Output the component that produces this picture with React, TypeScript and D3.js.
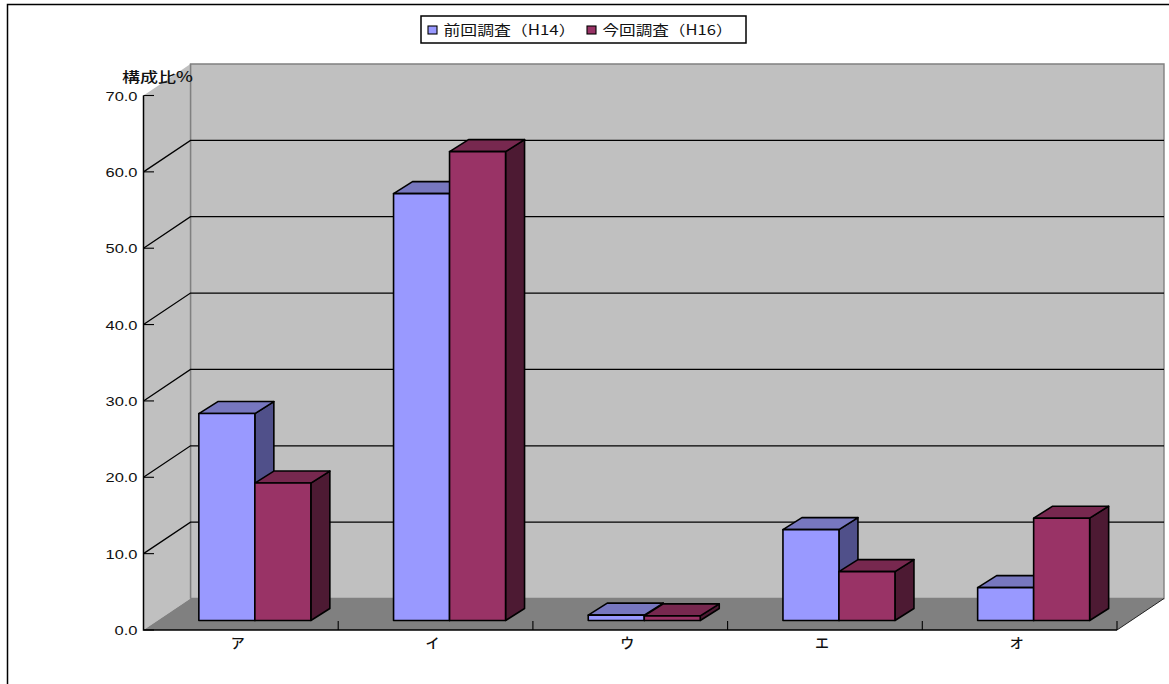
import React from "react";
import * as d3 from "d3";

const categories = ["ア", "イ", "ウ", "エ", "オ"];
const seriesNames = ["前回調査(H14)", "今回調査(H16)"];
const legendLabels = ["前回調査（H14）", "今回調査（H16）"];
const previous = [27.1, 55.9, 0.7, 11.9, 4.3];
const current = [18.0, 61.4, 0.6, 6.4, 13.4];
const yTicks = [0, 10, 20, 30, 40, 50, 60, 70];
const gridTicks = [10, 20, 30, 40, 50, 60];

const frontFill = ["#9999ff", "#993366"];
const topFill = ["#7777bf", "#77284f"];
const sideFill = ["#50508a", "#4d1a33"];

const W = 1169, H = 684;
const left = 143.5, right = 1117, base = 630, top70 = 95.5;
const wallDx = 47, wallDy = -31.5;
const planeDx = 14, planeDy = -9.5;
const barDx = 19, barDy = -12;

const x = d3.scaleBand<string>().domain(categories).range([left, right]);
const y = d3.scaleLinear().domain([0, 70]).range([base, top70]);
const inner = d3.scaleBand<string>().domain(seriesNames).range([-56, 56]);
const numFont = "'Liberation Sans', Arial, sans-serif";
const cjkFont = "'Noto Sans CJK JP', sans-serif";
const pts = (p: number[][]) => p.map((a) => a.join(",")).join(" ");

export default function App() {
  const values = [previous, current];
  const boundaries = [...categories.map((c) => x(c)! + x.bandwidth())];
  return (
    <svg width={W} height={H} style={{ position: "absolute", left: 0, top: 0, background: "#fff" }}>
      <path d={`M7.5 ${H}V4.5H${W}`} fill="none" stroke="#000" strokeWidth={1.5} />
      {/* walls */}
      <polygon points={pts([[left + wallDx, y(70) + wallDy], [right + wallDx, y(70) + wallDy], [right + wallDx, base + wallDy], [left + wallDx, base + wallDy]])} fill="#c0c0c0" stroke="#808080" strokeWidth={1.4} />
      <polygon points={pts([[left, y(70)], [left + wallDx, y(70) + wallDy], [left + wallDx, base + wallDy], [left, base]])} fill="#c0c0c0" />
      <line x1={left + wallDx} x2={left + wallDx} y1={y(70) + wallDy} y2={base + wallDy} stroke="#808080" strokeWidth={1.4} />
      <polygon points={pts([[left, base], [left + wallDx, base + wallDy], [right + wallDx, base + wallDy], [right, base]])} fill="#808080" />
      <line x1={right} y1={base} x2={right + wallDx} y2={base + wallDy} stroke="#222" strokeWidth={1} />
      {gridTicks.map((t) => (
        <g key={t}>
          <path d={`M${left} ${y(t)}L${left + wallDx} ${y(t) + wallDy}H${right + wallDx}`} fill="none" stroke="#000" strokeWidth={1.3} />
        </g>
      ))}
      {/* axes */}
      <path d={`M${left} ${y(70)}V${base}H${right}`} fill="none" stroke="#000" strokeWidth={1.5} />
      {yTicks.map((t) => {
        const label = t.toFixed(1);
        const w = label.length === 4 ? 32 : 23;
        return (
          <g key={t}>
            <line x1={left} x2={154} y1={y(t)} y2={y(t)} stroke="#000" strokeWidth={1.1} />
            <text x={137.5 - w} y={y(t) + 5} fontFamily={numFont} fontSize={13.5} textLength={w} lengthAdjust="spacingAndGlyphs" fill="#111">{label}</text>
          </g>
        );
      })}
      {boundaries.map((b) => (
        <line key={b} x1={b} x2={b} y1={base} y2={621} stroke="#000" strokeWidth={1.1} />
      ))}
      {categories.map((c) => (
        <text key={c} x={x(c)! + x.bandwidth() / 2 - 3} y={648} textAnchor="middle" fontFamily={cjkFont} fontSize={14} fontWeight={500} fill="#111">{c}</text>
      ))}
      <text x={122} y={81.5} fontFamily={cjkFont} fontSize={14} fontWeight={500} textLength={71} lengthAdjust="spacingAndGlyphs" fill="#111">構成比%</text>
      {/* bars */}
      {seriesNames.map((s, si) =>
        categories.map((c, ci) => {
          const v = values[si][ci];
          const x0 = x(c)! + x.bandwidth() / 2 + inner(s)! + planeDx;
          const x1 = x0 + inner.bandwidth();
          const b = y(0) + planeDy;
          const t = y(v) + planeDy;
          return (
            <g key={s + c} stroke="#000" strokeWidth={1.6} strokeLinejoin="round">
              <polygon points={pts([[x1, b], [x1 + barDx, b + barDy], [x1 + barDx, t + barDy], [x1, t]])} fill={sideFill[si]} />
              <polygon points={pts([[x0, t], [x0 + barDx, t + barDy], [x1 + barDx, t + barDy], [x1, t]])} fill={topFill[si]} />
              <rect x={x0} y={t} width={x1 - x0} height={b - t} fill={frontFill[si]} />
            </g>
          );
        })
      )}
      {/* legend */}
      <rect x={421} y={16} width={325} height={27} fill="#fff" stroke="#000" strokeWidth={1.5} />
      {legendLabels.map((l, i) => {
        const lx = [428, 587][i];
        return (
          <g key={l}>
            <rect x={lx} y={26} width={9} height={8} fill={frontFill[i]} stroke="#000" strokeWidth={1.1} />
            <text x={lx + 15.5} y={34.5} fontFamily={cjkFont} fontSize={14} textLength={[132, 130][i]} lengthAdjust="spacingAndGlyphs" fill="#111">{l}</text>
          </g>
        );
      })}
    </svg>
  );
}
